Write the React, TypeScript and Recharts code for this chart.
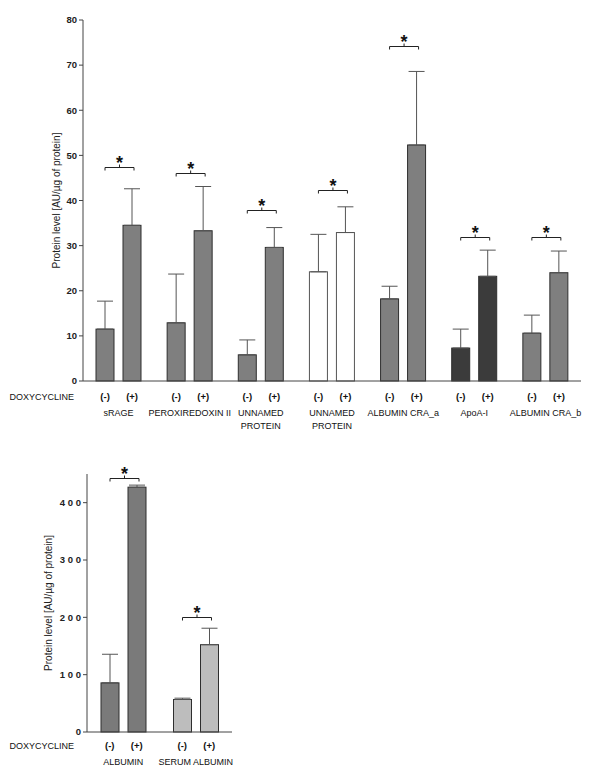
import React from 'react';
import { BarChart, Bar, XAxis, YAxis, ErrorBar, Cell } from 'recharts';

// ---------- Top panel data ----------
const topCategories = ['sRAGE', 'PEROXIREDOXIN II', 'UNNAMED\nPROTEIN', 'UNNAMED\nPROTEIN ', 'ALBUMIN CRA_a', 'ApoA-I', 'ALBUMIN CRA_b'];
const topMinus = [11.5, 12.9, 5.8, 24.2, 18.2, 7.3, 10.6];
const topMinusErr = [6.2, 10.8, 3.3, 8.3, 2.8, 4.2, 4.0];
const topPlus = [34.5, 33.3, 29.6, 32.9, 52.3, 23.2, 24.0];
const topPlusErr = [8.1, 9.8, 4.4, 5.7, 16.3, 5.8, 4.8];
const topBrackets = [47.5, 46.2, 38.0, 42.3, 74.3, 31.9, 31.9];
const topFills = ['#7f7f7f', '#7f7f7f', '#7f7f7f', '#ffffff', '#7f7f7f', '#3b3b3b', '#7f7f7f'];
const topTicks = [0, 10, 20, 30, 40, 50, 60, 70, 80];

// ---------- Bottom panel data ----------
const botCategories = ['ALBUMIN', 'SERUM ALBUMIN'];
const botMinus = [85.7, 56.7];
const botMinusErr = [49.9, 2.3];
const botPlus = [427, 152.3];
const botPlusErr = [3.6, 28.7];
const botBrackets = [442.6, 200];
const botFills = ['#7a7a7a', '#bdbdbd'];
const botTicks = [0, 100, 200, 300, 400];

const doxLabel = 'DOXYCYCLINE';
const minusLabel = '(-)';
const plusLabel = '(+)';
const yLabel = 'Protein level [AU/\u00b5g of protein]';

const FONT = '"Liberation Sans", Arial, Helvetica, sans-serif';

const build = (cats: string[], mi: number[], mie: number[], pl: number[], ple: number[], br: number[], fills: string[]) =>
  cats.map((name, i) => ({
    name,
    minus: mi[i],
    minusErr: [0, mie[i]],
    plus: pl[i],
    plusErr: [0, ple[i]],
    bracket: br[i],
    fill: fills[i],
  }));

const topData = build(topCategories, topMinus, topMinusErr, topPlus, topPlusErr, topBrackets, topFills);
const botData = build(botCategories, botMinus, botMinusErr, botPlus, botPlusErr, botBrackets, botFills);

const strokeFor = (fill: string) => (fill === '#ffffff' ? '#555555' : '#2e2e2e');

const MinusShape = (props: any) => {
  const { x, y, width, height, payload } = props;
  return <rect x={x} y={y} width={width} height={height} fill={payload.fill} stroke={strokeFor(payload.fill)} strokeWidth={1} />;
};

const PlusShape = (props: any) => {
  const { x, y, width, height, payload } = props;
  const px = height / payload.plus;
  const base = y + height;
  const by = Math.round(base - payload.bracket * px) + 0.5;
  const left = x - 18;
  const right = x + 11;
  const mid = (left + right) / 2;
  return (
    <g>
      <rect x={x} y={y} width={width} height={height} fill={payload.fill} stroke={strokeFor(payload.fill)} strokeWidth={1} />
      <path d={`M${left},${by + 3}V${by}H${right}V${by + 3}M${mid},${by}V${by - 3}`} stroke="#222" strokeWidth={1} fill="none" />
      <text x={mid} y={by + 1} textAnchor="middle" fontFamily={FONT} fontWeight="bold" fontSize={18} fill="#111">*</text>
    </g>
  );
};

const makeTick = (opts: { pm: number; line1: number; line2: number; doxEnd: number }) => (props: any) => {
  const { x, y, payload, index } = props;
  const lines = String(payload.value).trim().split('\n');
  return (
    <g fontFamily={FONT} fill="#111">
      {index === 0 && (
        <text x={x + opts.doxEnd} y={y + opts.pm} textAnchor="end" fontSize={9} fill="#111">{doxLabel}</text>
      )}
      <text x={x - 13.5} y={y + opts.pm} textAnchor="middle" fontSize={9.5} fontWeight="bold" fill="#111">{minusLabel}</text>
      <text x={x + 13.5} y={y + opts.pm} textAnchor="middle" fontSize={9.5} fontWeight="bold" fill="#111">{plusLabel}</text>
      {lines.map((l, i) => (
        <text key={i} x={x} y={y + opts.line1 + i * opts.line2} textAnchor="middle" fontSize={9} fill="#111">{l}</text>
      ))}
    </g>
  );
};

const makeYLabel = (offset: number) => (props: any) => {
  const vb = props.viewBox || {};
  const cx = vb.x + vb.width - offset;
  const cy = vb.y + vb.height / 2;
  return (
    <text x={cx} y={cy} transform={`rotate(-90 ${cx} ${cy})`} textAnchor="middle" dominantBaseline="central" fontFamily={FONT} fontSize={10} fill="#222">
      {yLabel}
    </text>
  );
};

const TopTick = makeTick({ pm: 16.5, line1: 32.5, line2: 13, doxEnd: -44.6 });
const BotTick = makeTick({ pm: 14.5, line1: 30.5, line2: 13, doxEnd: -49.3 });

export default function App() {
  return (
    <div style={{ position: 'absolute', left: 0, top: 0, width: 600, height: 771, background: '#fff' }}>
      <div style={{ position: 'absolute', left: 0, top: 0 }}>
        <BarChart width={600} height={440} data={topData} margin={{ top: 20, right: 19, bottom: 4, left: 0 }} barSize={18} barGap={9}>
          <XAxis dataKey="name" height={55} tickLine={false} tickSize={0} stroke="#444" tick={<TopTick />} interval={0} />
          <YAxis
            width={83}
            domain={[0, 80]}
            ticks={topTicks}
            tickSize={4}
            tickMargin={2}
            stroke="#444"
            tick={{ fontSize: 9.5, fontWeight: 'bold', fill: '#222', fontFamily: FONT }}
            label={{ content: makeYLabel(27) } as any}
          />
          <Bar dataKey="minus" isAnimationActive={false} shape={<MinusShape />}>
            {topData.map((d, i) => <Cell key={i} fill={d.fill} />)}
            <ErrorBar dataKey="minusErr" width={8} stroke="#555" strokeWidth={1} direction="y" />
          </Bar>
          <Bar dataKey="plus" isAnimationActive={false} shape={<PlusShape />}>
            {topData.map((d, i) => <Cell key={i} fill={d.fill} />)}
            <ErrorBar dataKey="plusErr" width={8} stroke="#555" strokeWidth={1} direction="y" />
          </Bar>
        </BarChart>
      </div>
      <div style={{ position: 'absolute', left: 0, top: 440 }}>
        <BarChart width={300} height={331} data={botData} margin={{ top: 34, right: 68, bottom: 3, left: 0 }} barSize={18} barGap={9}>
          <XAxis dataKey="name" height={36} tickLine={false} tickSize={0} stroke="#444" tick={<BotTick />} interval={0} />
          <YAxis
            width={87}
            domain={[0, 450]}
            ticks={botTicks}
            tickSize={4}
            tickMargin={2}
            stroke="#444"
            tickFormatter={(v: number) => String(v).split('').join(' ')}
            tick={{ fontSize: 9.5, fontWeight: 'bold', fill: '#222', fontFamily: FONT }}
            label={{ content: makeYLabel(39) } as any}
          />
          <Bar dataKey="minus" isAnimationActive={false} shape={<MinusShape />}>
            {botData.map((d, i) => <Cell key={i} fill={d.fill} />)}
            <ErrorBar dataKey="minusErr" width={8} stroke="#555" strokeWidth={1} direction="y" />
          </Bar>
          <Bar dataKey="plus" isAnimationActive={false} shape={<PlusShape />}>
            {botData.map((d, i) => <Cell key={i} fill={d.fill} />)}
            <ErrorBar dataKey="plusErr" width={8} stroke="#555" strokeWidth={1} direction="y" />
          </Bar>
        </BarChart>
      </div>
    </div>
  );
}
